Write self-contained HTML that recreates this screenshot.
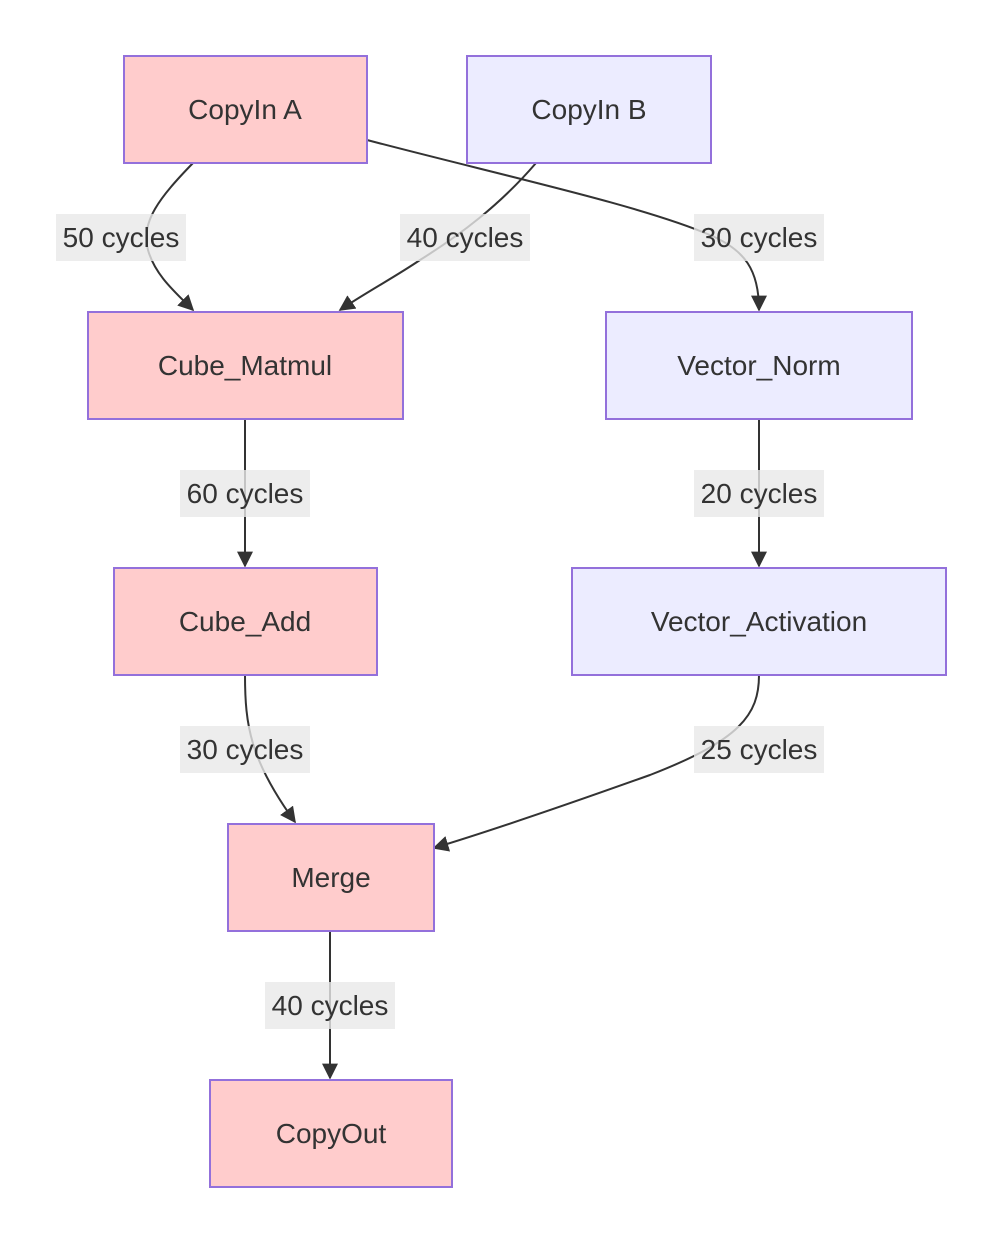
<!DOCTYPE html>
<html><head><meta charset="utf-8"><style>
html,body{margin:0;padding:0;background:#fff;}
svg{display:block;}
text{font-family:"Liberation Sans","DejaVu Sans",sans-serif;font-size:28px;fill:#333;}
</style></head><body>
<svg width="1002" height="1243" viewBox="0 0 1002 1243" xmlns="http://www.w3.org/2000/svg">
<defs>
<marker id="ar" viewBox="0 0 10 10" refX="9" refY="5" markerWidth="9" markerHeight="9" markerUnits="userSpaceOnUse" orient="auto">
<path d="M0,0 L10,5 L0,10 z" fill="#333"/>
</marker>
<marker id="a" viewBox="0 0 10 10" refX="9" refY="5" markerWidth="16" markerHeight="16" markerUnits="userSpaceOnUse" orient="auto">
<path d="M0,0 L10,5 L0,10 z" fill="#333"/>
</marker>
</defs>
<g fill="none" stroke="#333" stroke-width="2">
<path d="M193,163 C160,197 140,222 148,250 C155,275 175,292 193,310" marker-end="url(#a)"/>
<path d="M536,163 C500,205 460,235 420,260 C395,277 365,293 340,310" marker-end="url(#a)"/>
<path d="M367,140 C500,175 640,205 710,235 C745,250 759,270 759,310" marker-end="url(#a)"/>
<path d="M245,419 L245,566" marker-end="url(#a)"/>
<path d="M759,419 L759,566" marker-end="url(#a)"/>
<path d="M245,675 C245,725 250,760 295,822" marker-end="url(#a)"/>
<path d="M759,675 C759,715 740,740 650,775 C580,800 500,828 434,848" marker-end="url(#a)"/>
<path d="M330,931 L330,1078" marker-end="url(#a)"/>
</g>
<g stroke="#9370db" stroke-width="2">
<rect x="124" y="56" width="243" height="107" fill="#ffcccc"/>
<rect x="467" y="56" width="244" height="107" fill="#ececff"/>
<rect x="88" y="312" width="315" height="107" fill="#ffcccc"/>
<rect x="606" y="312" width="306" height="107" fill="#ececff"/>
<rect x="114" y="568" width="263" height="107" fill="#ffcccc"/>
<rect x="572" y="568" width="374" height="107" fill="#ececff"/>
<rect x="228" y="824" width="206" height="107" fill="#ffcccc"/>
<rect x="210" y="1080" width="242" height="107" fill="#ffcccc"/>
</g>
<g text-anchor="middle">
<text x="245" y="119">CopyIn A</text>
<text x="589" y="119">CopyIn B</text>
<text x="245" y="375">Cube_Matmul</text>
<text x="759" y="375">Vector_Norm</text>
<text x="245" y="631">Cube_Add</text>
<text x="759" y="631">Vector_Activation</text>
<text x="331" y="887">Merge</text>
<text x="331" y="1143">CopyOut</text>
</g>
<g fill="#e8e8e8" opacity="0.8">
<rect x="56" y="214" width="130" height="47"/>
<rect x="400" y="214" width="130" height="47"/>
<rect x="694" y="214" width="130" height="47"/>
<rect x="180" y="470" width="130" height="47"/>
<rect x="694" y="470" width="130" height="47"/>
<rect x="180" y="726" width="130" height="47"/>
<rect x="694" y="726" width="130" height="47"/>
<rect x="265" y="982" width="130" height="47"/>
</g>
<g text-anchor="middle">
<text x="121" y="247">50 cycles</text>
<text x="465" y="247">40 cycles</text>
<text x="759" y="247">30 cycles</text>
<text x="245" y="503">60 cycles</text>
<text x="759" y="503">20 cycles</text>
<text x="245" y="759">30 cycles</text>
<text x="759" y="759">25 cycles</text>
<text x="330" y="1015">40 cycles</text>
</g>
</svg>
</body></html>
